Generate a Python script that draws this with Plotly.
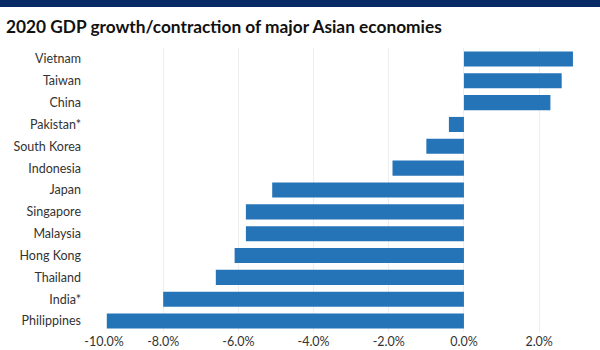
import plotly.graph_objects as go

countries = ["Vietnam", "Taiwan", "China", "Pakistan*", "South Korea", "Indonesia",
             "Japan", "Singapore", "Malaysia", "Hong Kong", "Thailand", "India*", "Philippines"]
growth = [2.9, 2.6, 2.3, -0.4, -1.0, -1.9, -5.1, -5.8, -5.8, -6.1, -6.6, -8.0, -9.5]
tick_vals = [-10, -8, -6, -4, -2, 0, 2]
tick_text = ["-10.0%", "-8.0%", "-6.0%", "-4.0%", "-2.0%", "0.0%", "2.0%"]

W, H = 600, 350
ml, mr, mt, mb = 88, 12, 48, 18
ph = H - mt - mb
pw = W - ml - mr

# the first label sits inside the plot edge, as in the reference
shown_text = [("&nbsp;" * 10 + t) if v == min(tick_vals) else t
              for v, t in zip(tick_vals, tick_text)]

fig = go.Figure(go.Bar(
    x=growth, y=countries, orientation="h",
    marker=dict(color="#2574b8", line=dict(width=0)),
    hoverinfo="x+y",
))

fig.update_layout(
    width=W, height=H,
    margin=dict(l=ml, r=mr, t=mt, b=mb, autoexpand=False),
    paper_bgcolor="white", plot_bgcolor="white",
    bargap=0.31,
    showlegend=False,
    font=dict(family="Lato, Open Sans, sans-serif", size=12.5, color="#333333"),
    title=dict(text="<b>2020 GDP growth/contraction of major Asian economies</b>",
               x=6 / W, xanchor="left", y=1 - 27 / H, yanchor="middle",
               font=dict(size=17.3, color="#111111", family="Lato, Open Sans, sans-serif")),
    xaxis=dict(range=[-10, 3.3], tickvals=tick_vals, ticktext=shown_text,
               showgrid=True, gridcolor="#eeeeee", gridwidth=1,
               zeroline=False, showline=False, ticks="", automargin=False,
               tickfont=dict(size=12.5, color="#333333")),
    yaxis=dict(categoryorder="array", categoryarray=countries[::-1],
               showgrid=False, zeroline=False, showline=False, ticks="",
               automargin=False, ticklabelstandoff=6,
               tickfont=dict(size=12.5, color="#333333")),
    shapes=[dict(type="rect", xref="paper", yref="paper",
                 x0=-ml / pw, x1=1 + mr / pw,
                 y0=1 + (mt - 7) / ph, y1=1 + mt / ph,
                 fillcolor="#082b68", line=dict(width=0), layer="above")],
)

fig.write_html("out.html")
